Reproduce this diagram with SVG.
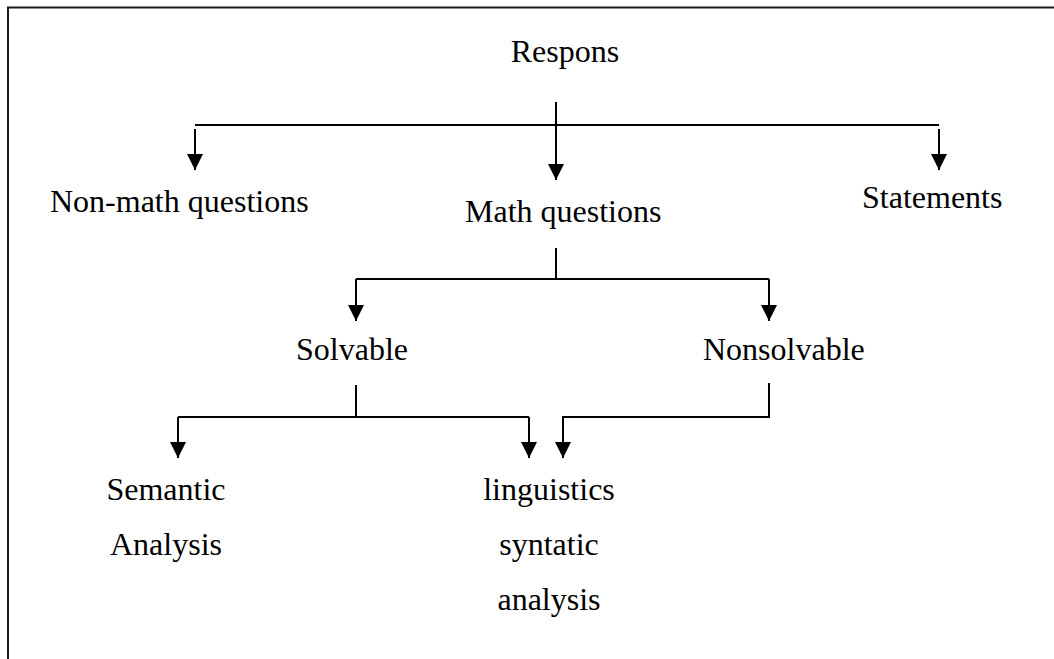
<svg xmlns="http://www.w3.org/2000/svg" width="1054" height="659" viewBox="0 0 1054 659">
<style>
text{font-family:"Liberation Serif","Times New Roman",serif;font-size:32px;fill:#000}
.ln{stroke:#000;stroke-width:2;fill:none}
.fr{stroke:#1a1a1a;stroke-width:2;fill:none}
</style>
<defs>
<marker id="ah" markerUnits="userSpaceOnUse" markerWidth="16" markerHeight="16" viewBox="0 0 16 16" refX="8" refY="16" orient="0">
<polygon points="0,0 16,0 8,16" fill="#000"/>
</marker>
</defs>
<rect width="1054" height="659" fill="#fff"/>
<path class="fr" d="M8,659 V7.5 H1054"/>
<g id="connectors">
<line class="ln" x1="195" y1="125" x2="939" y2="125"/>
<line class="ln" x1="556" y1="102" x2="556" y2="180" marker-end="url(#ah)"/>
<line class="ln" x1="195" y1="129" x2="195" y2="170" marker-end="url(#ah)"/>
<line class="ln" x1="939" y1="129" x2="939" y2="170" marker-end="url(#ah)"/>
<path class="ln" d="M556,248 V279"/>
<line class="ln" x1="356" y1="279" x2="769" y2="279"/>
<line class="ln" x1="356" y1="279" x2="356" y2="321" marker-end="url(#ah)"/>
<line class="ln" x1="769" y1="279" x2="769" y2="321" marker-end="url(#ah)"/>
<path class="ln" d="M356,385 V417"/>
<line class="ln" x1="178" y1="417" x2="529" y2="417"/>
<line class="ln" x1="178" y1="417" x2="178" y2="458" marker-end="url(#ah)"/>
<line class="ln" x1="529" y1="417" x2="529" y2="458" marker-end="url(#ah)"/>
<path class="ln" d="M769,383 V417 H563 V458" marker-end="url(#ah)"/>
</g>
<g id="respons"><text x="565" y="62" text-anchor="middle">Respons</text></g>
<g id="nonmath"><text x="50" y="212">Non-math questions</text></g>
<g id="math"><text x="465" y="222">Math questions</text></g>
<g id="statements"><text x="862" y="208">Statements</text></g>
<g id="solvable"><text x="296" y="360">Solvable</text></g>
<g id="nonsolvable"><text x="703" y="360">Nonsolvable</text></g>
<g id="semantic"><text x="166" y="500" text-anchor="middle">Semantic</text><text x="166" y="555" text-anchor="middle">Analysis</text></g>
<g id="linguistics"><text x="549" y="500" text-anchor="middle">linguistics</text><text x="549" y="555" text-anchor="middle">syntatic</text><text x="549" y="610" text-anchor="middle">analysis</text></g>
</svg>
